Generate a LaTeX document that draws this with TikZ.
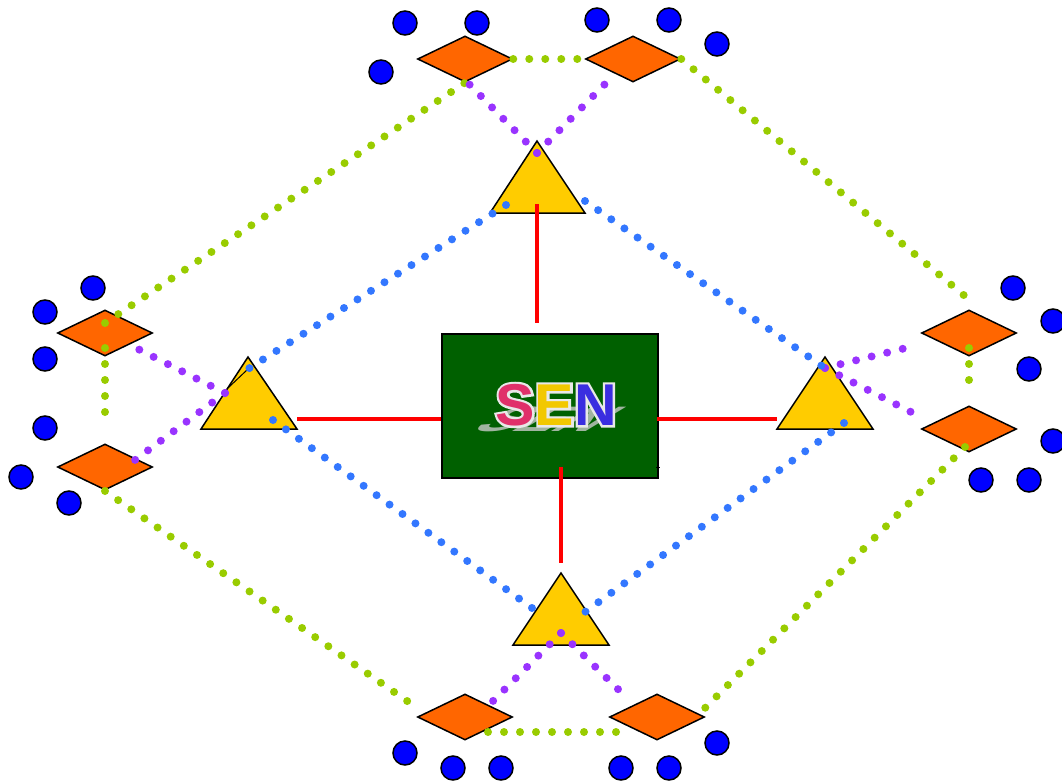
\documentclass[tikz,border=0pt]{standalone}
\usepackage{fontspec}
\newfontfamily\senfam{Liberation Sans}
\newfontfamily\senfamw{Liberation Sans}[FakeBold=8]
\usetikzlibrary{shapes.geometric}
\definecolor{dgreen}{HTML}{006000}
\definecolor{pblue}{HTML}{0000FF}
\definecolor{dorange}{HTML}{FF6600}
\definecolor{tyellow}{HTML}{FFCC00}
\definecolor{lgreen}{HTML}{99CC00}
\definecolor{lpurple}{HTML}{9933FF}
\definecolor{lblue}{HTML}{3377FF}
\definecolor{shadowgray}{HTML}{A0B4A0}
\definecolor{outl}{HTML}{E8E8E8}
\definecolor{colS}{HTML}{E0306A}
\definecolor{colE}{HTML}{F2C800}
\definecolor{colN}{HTML}{3A2EE0}
\newcommand\senfont{\senfam\bfseries\fontsize{59}{59}\selectfont}
\newcommand\senfontw{\senfamw\bfseries\fontsize{59}{59}\selectfont}
\begin{document}
\begin{tikzpicture}[x=1pt,y=-1pt,
  bcirc/.style={circle, draw=black, line width=1.5pt, fill=pblue, minimum size=24pt, inner sep=0pt},
  odia/.style={diamond, draw=black, line width=1.5pt, fill=dorange, minimum width=95pt, minimum height=46pt, inner sep=0pt},
  tri/.style={draw=black, line width=1.5pt, fill=tyellow, line join=miter},
  dotline/.style={line width=8pt, line cap=round, dash pattern=on 0pt off 16pt},
  gline/.style={dotline, draw=lgreen},
  pline/.style={dotline, draw=lpurple},
  bline/.style={dotline, draw=lblue},
  rline/.style={draw=red, line width=4pt},
  letter/.style={inner sep=0pt, font=\senfont}]
\useasboundingbox (0,0) rectangle (1062,781);
% blue circles
\node[bcirc] (c1) at (405,23) {};
\node[bcirc] (c2) at (477,23) {};
\node[bcirc] (c3) at (381,72) {};
\node[bcirc] (c4) at (597,20) {};
\node[bcirc] (c5) at (669,20) {};
\node[bcirc] (c6) at (717,44) {};
\node[bcirc] (c7) at (93,288) {};
\node[bcirc] (c8) at (45,312) {};
\node[bcirc] (c9) at (45,359) {};
\node[bcirc] (c10) at (45,428) {};
\node[bcirc] (c11) at (21,477) {};
\node[bcirc] (c12) at (69,503) {};
\node[bcirc] (c13) at (1013,288) {};
\node[bcirc] (c14) at (1053,321) {};
\node[bcirc] (c15) at (1029,369) {};
\node[bcirc] (c16) at (1053,441) {};
\node[bcirc] (c17) at (981,480) {};
\node[bcirc] (c18) at (1029,480) {};
\node[bcirc] (c19) at (405,753) {};
\node[bcirc] (c20) at (453,768) {};
\node[bcirc] (c21) at (501,768) {};
\node[bcirc] (c22) at (621,768) {};
\node[bcirc] (c23) at (669,768) {};
\node[bcirc] (c24) at (717,743) {};
% diamonds
\node[odia] (dT1) at (465,59) {};
\node[odia] (dT2) at (633,59) {};
\node[odia] (dL1) at (105,333) {};
\node[odia] (dL2) at (105,467) {};
\node[odia] (dR1) at (969,333) {};
\node[odia] (dR2) at (969,429) {};
\node[odia] (dB1) at (465,717) {};
\node[odia] (dB2) at (657,717) {};
% triangles
\draw[tri] (490,213) -- (537,141) -- (585,213) -- cycle;
\draw[tri] (201,429) -- (248,357) -- (297,429) -- cycle;
\draw[tri] (777,429) -- (825,357) -- (873,429) -- cycle;
\draw[tri] (513,645) -- (561,573) -- (609,645) -- cycle;
% central box
\node[draw=black, line width=1.5pt, fill=dgreen, minimum width=216pt, minimum height=144pt, inner sep=0pt, anchor=north west] (sen) at (441,333) {};
\coordinate (tk1) at (656,467);
\coordinate (tk2) at (660,467);
\draw[black, line width=1pt] (tk1) -- (tk2);
\node[letter, text=shadowgray, yscale=0.6, xslant=1.0] (senshadow) at (550,419) {SEN};
\node[inner sep=0pt, font=\senfontw, text=outl] (senout) at (556,405) {SEN};
\node[letter, text=colS, anchor=base west] (lS) at ([xshift=-0.2pt]senout.base west) {S};
\node[letter, text=colE, anchor=base west] (lE) at (lS.base east) {E};
\node[letter, text=colN, anchor=base west] (lN) at (lE.base east) {N};
% coordinates
\coordinate (g2e) at (966,297);
\coordinate (g3s) at (969,348);
\coordinate (g3e) at (969,384);
\coordinate (g4s) at (965,447);
\coordinate (g4e) at (705,708);
\coordinate (g5s) at (488,732);
\coordinate (g5e) at (620,732);
\coordinate (g6s) at (105,491);
\coordinate (g6e) at (410,703);
\coordinate (g7s) at (105,348);
\coordinate (g7e) at (105,428);
\coordinate (g8s) at (105,323);
\coordinate (pT) at (537,153);
\coordinate (pT1) at (469,84);
\coordinate (pT2) at (605,84);
\coordinate (pL) at (225,393);
\coordinate (pL1) at (138,349);
\coordinate (pL2) at (135,460);
\coordinate (pR) at (825,368);
\coordinate (pR1) at (918,345);
\coordinate (pR2) at (911,412);
\coordinate (pB) at (561,633);
\coordinate (pB1) at (493,701);
\coordinate (pB2) at (629,700);
\coordinate (b1s) at (506,205);
\coordinate (b1e) at (248,369);
\coordinate (b2s) at (585,201);
\coordinate (b2e) at (822,366);
\coordinate (b3s) at (273,420);
\coordinate (b3e) at (532,608);
\coordinate (b4s) at (844,423);
\coordinate (b4e) at (585,612);
\coordinate (k1) at (228,388);
\coordinate (k2) at (248,369);
\coordinate (rT1) at (537,204);
\coordinate (rT2) at (537,323);
\coordinate (rL1) at (297,419);
\coordinate (rL2) at (441,419);
\coordinate (rR1) at (657,419);
\coordinate (rR2) at (777,419);
\coordinate (rB1) at (561,467);
\coordinate (rB2) at (561,563);
% thin black stroke in left triangle
\draw[black, line width=1pt] (k1) -- (k2);
% green dotted
\draw[gline] (dT1.east) -- (dT2.west);
\draw[gline] (dT2.east) -- (g2e);
\draw[gline] (g3s) -- (g3e);
\draw[gline] (g4s) -- (g4e);
\draw[gline] (g5s) -- (g5e);
\draw[gline] (g6s) -- (g6e);
\draw[gline] (g7s) -- (g7e);
\draw[gline] (g8s) -- (dT1.south);
% purple dotted
\draw[pline] (pT) -- (pT1);
\draw[pline] (pT) -- (pT2);
\draw[pline] (pL) -- (pL1);
\draw[pline] (pL) -- (pL2);
\draw[pline] (pR) -- (pR1);
\draw[pline] (pR) -- (pR2);
\draw[pline] (pB) -- (pB1);
\draw[pline] (pB) -- (pB2);
% blue dotted
\draw[bline] (b1s) -- (b1e);
\draw[bline] (b2s) -- (b2e);
\draw[bline] (b3s) -- (b3e);
\draw[bline] (b4s) -- (b4e);
% red lines
\draw[rline] (rT1) -- (rT2);
\draw[rline] (rL1) -- (rL2);
\draw[rline] (rR1) -- (rR2);
\draw[rline] (rB1) -- (rB2);
\end{tikzpicture}
\end{document}
